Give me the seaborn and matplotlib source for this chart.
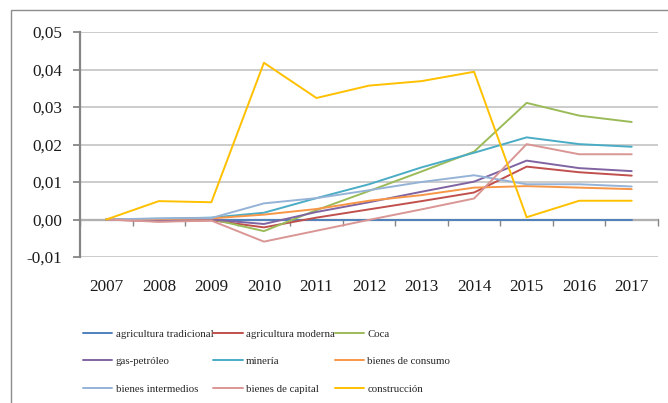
import matplotlib
matplotlib.use("Agg")
import matplotlib.pyplot as plt
from matplotlib.patches import Rectangle
from matplotlib.ticker import FuncFormatter, FixedLocator
import seaborn as sns
import pandas as pd
import numpy as np

# data
years = ["2007", "2008", "2009", "2010", "2011", "2012", "2013", "2014", "2015", "2016", "2017"]

agricultura_tradicional = [0, 0, 0, 0, 0, 0, 0, 0, 0, 0, 0]
agricultura_moderna = [0, -0.0005, -0.0002, -0.0021, 0.0005, 0.0027, 0.0049, 0.0072, 0.0141, 0.0126, 0.0117]
coca = [0, -0.0001, 0.0001, -0.0031, 0.0025, 0.0076, 0.0128, 0.0181, 0.0311, 0.0277, 0.0260]
gas_petroleo = [0, -0.0002, 0.0000, -0.0012, 0.0020, 0.0046, 0.0074, 0.0101, 0.0157, 0.0137, 0.0129]
mineria = [0, 0.0002, 0.0005, 0.0018, 0.0057, 0.0094, 0.0139, 0.0178, 0.0219, 0.0201, 0.0194]
bienes_consumo = [0, 0.0001, 0.0003, 0.0013, 0.0028, 0.0050, 0.0065, 0.0085, 0.0089, 0.0085, 0.0081]
bienes_intermedios = [0, 0.0003, 0.0004, 0.0043, 0.0057, 0.0078, 0.0100, 0.0118, 0.0094, 0.0094, 0.0088]
bienes_capital = [0, -0.0006, -0.0003, -0.0059, -0.0030, -0.0001, 0.0027, 0.0056, 0.0201, 0.0174, 0.0174]
construccion = [0, 0.0049, 0.0046, 0.0418, 0.0324, 0.0357, 0.0369, 0.0394, 0.0006, 0.0050, 0.0050]

series_names = ["agricultura tradicional", "agricultura moderna", "Coca",
                "gas-petróleo", "minería", "bienes de consumo",
                "bienes intermedios", "bienes de capital", "construcción"]
series_values = [agricultura_tradicional, agricultura_moderna, coca,
                 gas_petroleo, mineria, bienes_consumo,
                 bienes_intermedios, bienes_capital, construccion]
colors = ["#4F81BD", "#C0504D", "#9BBB59", "#8064A2", "#4BACC6",
          "#F79646", "#95B3D7", "#D99694", "#FFC000"]

rows = []
for name, vals in zip(series_names, series_values):
    for i, v in enumerate(vals):
        rows.append({"pos": i, "sector": name, "valor": v})
df = pd.DataFrame(rows)

sns.set_theme(style="white")
plt.rcParams["font.family"] = ["Liberation Serif", "DejaVu Serif"]

W, H = 668, 403
fig = plt.figure(figsize=(W / 100, H / 100), dpi=100)
ax = fig.add_axes([80 / W, 1 - 257 / H, (658 - 80) / W, (257 - 32) / H])

sns.lineplot(data=df, x="pos", y="valor", hue="sector", hue_order=series_names,
             palette=dict(zip(series_names, colors)), linewidth=1.4,
             legend=False, ax=ax, zorder=3)

ymin, ymax = -0.01, 0.05
ax.set_xlim(-0.5, len(years) - 0.5)
ax.set_ylim(ymin, ymax)
ax.set_xlabel("")
ax.set_ylabel("")

# y axis
ax.set_yticks(np.arange(-0.01, 0.051, 0.01))
ax.yaxis.set_major_formatter(FuncFormatter(lambda v, p: f"{v:.2f}".replace(".", ",").replace("-0,00", "0,00")))
ax.yaxis.grid(True, color="#BFBFBF", linewidth=1.1)
ax.tick_params(axis="y", direction="out", length=5, width=1.3, color="#868686",
               left=True, pad=8, labelsize=12.3, labelcolor="#1a1a1a")
for s in ["top", "right", "bottom"]:
    ax.spines[s].set_visible(False)
ax.spines["left"].set_color("#868686")
ax.spines["left"].set_linewidth(1.6)

# year labels at the bottom of the plot
ax.set_xticks(range(len(years)), labels=years)
ax.tick_params(axis="x", length=0, pad=16, labelsize=12.3, labelcolor="#1a1a1a")

# category axis line at zero with ticks between categories
sec = ax.secondary_xaxis((0 - ymin) / (ymax - ymin))
sec.spines["bottom"].set_color("#868686")
sec.spines["bottom"].set_linewidth(1.6)
sec.xaxis.set_major_locator(FixedLocator(np.arange(-0.5, len(years), 1.0)))
sec.tick_params(axis="x", direction="out", length=4, width=1, color="#868686", labelbottom=False)

# legend: 3 x 3, row-major like the reference
handles = ax.get_lines()[:len(series_names)]
order = [0, 3, 6, 1, 4, 7, 2, 5, 8]
fig.legend([handles[i] for i in order], [series_names[i] for i in order],
           ncol=3, loc="upper left", bbox_to_anchor=(83 / W, 1 - 329 / H),
           frameon=False, fontsize=7.8, handlelength=2.7, handletextpad=0.3,
           columnspacing=0.0, labelspacing=1.65, borderpad=0, borderaxespad=0)

# chart area border (left and top edges visible)
fig.add_artist(Rectangle((11 / W, -0.05), 1.0, 1.05 - 10 / H, transform=fig.transFigure,
                         fill=False, edgecolor="#8c8c8c", linewidth=1))

fig.savefig("out.png", dpi=100)
